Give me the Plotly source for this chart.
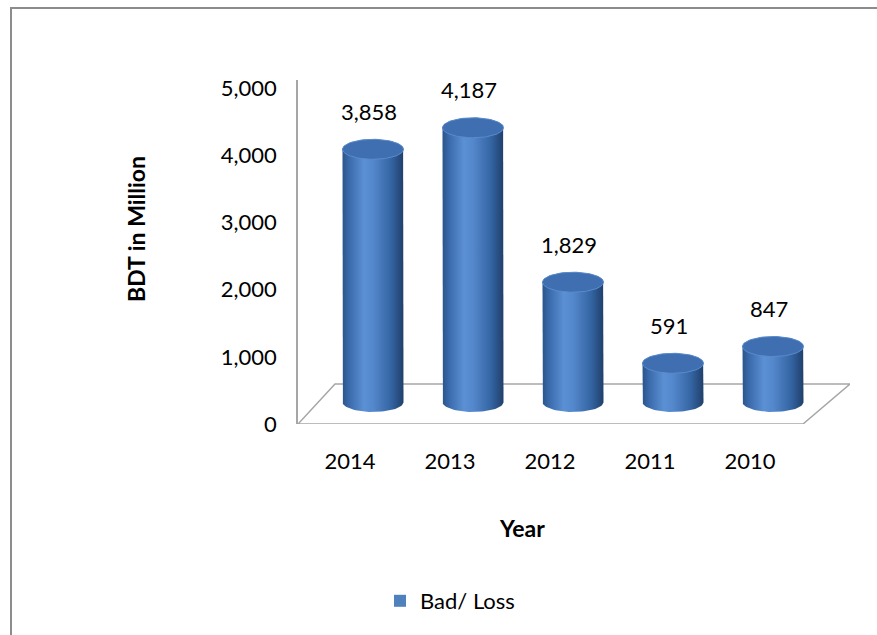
import numpy as np
import plotly.graph_objects as go

years = ["2014", "2013", "2012", "2011", "2010"]
values = [3858, 4187, 1829, 591, 847]
series_name = "Bad/ Loss"
y_ticks = [0, 1000, 2000, 3000, 4000, 5000]

# geometry (pixels -> axis units)
W, H = 877, 635
ML, MR, MT, MB = 298, 27, 80, 211
PX_X = 100.0                 # px per category
PX_Y = 0.0672                # px per value unit on the front (tick) plane
PX_Y2 = 0.0655               # px per value unit on the cylinders' (deeper) plane
BASE_PX = 22                 # cylinders' base sits this many px above the front edge
plot_w = W - ML - MR
plot_h = H - MT - MB
x0 = -0.75
x_range = [x0, x0 + plot_w / PX_X]
y_range = [0, plot_h / PX_Y]
y2_range = [-BASE_PX / PX_Y2, (plot_h - BASE_PX) / PX_Y2]

rx = 0.305          # cylinder radius (x units)
ry = 10 / PX_Y2     # ellipse vertical radius (y2 units)

FONT = "Lato"
fig = go.Figure()

body_scale = [[0, "#2a558b"], [0.12, "#3b6cad"], [0.35, "#5b90d4"],
              [0.5, "#5488cc"], [0.8, "#3464a2"], [1, "#203f6b"]]

for i, v in enumerate(values):
    c = i
    top = v
    th_b = np.linspace(np.pi, 2 * np.pi, 40)
    th_t = np.linspace(0, np.pi, 40)
    xs = [c - rx] + list(c + rx * np.cos(th_b)) + [c + rx] + list(c + rx * np.cos(th_t))
    ys = [top] + list(0 + ry * np.sin(th_b)) + [top] + list(top + ry * np.sin(th_t))
    fig.add_trace(go.Scatter(
        x=xs, y=ys, yaxis="y2", mode="lines", fill="toself",
        line=dict(width=0, color="rgba(0,0,0,0)"),
        fillgradient=dict(type="horizontal", colorscale=body_scale),
        hoverinfo="skip", showlegend=False))
    th = np.linspace(0, 2 * np.pi, 80)
    fig.add_trace(go.Scatter(
        x=list(c + rx * np.cos(th)), y=list(top + ry * np.sin(th)), yaxis="y2",
        mode="lines", fill="toself", fillcolor="#3f6fb0",
        line=dict(width=1, color="#5a8bcd"),
        hoverinfo="skip", showlegend=False))
    fig.add_annotation(x=c - 0.04, y=top, yref="y2", text=f"{v:,}", showarrow=False,
                       yshift=38, font=dict(family=FONT, size=22, color="#000"))

# legend entry
fig.add_trace(go.Scatter(x=[None], y=[None], mode="markers", name=series_name,
                         marker=dict(symbol="square", size=12, color="#4f81bd")))

def xp(px):
    return (px - ML) / plot_w

def yp(py):
    return (H - MB - py) / plot_h

floor_back = 40 / PX_Y
shapes = [
    # floor
    dict(type="path", xref="x", yref="y", layer="below",
         path=f"M {x0},0 L {x0 + 0.37},{floor_back} L {x_range[1]},{floor_back} L {x0 + 5.05},0 Z",
         line=dict(color="#a6a6a6", width=1.5)),
    # outer border
    dict(type="line", xref="paper", yref="paper", x0=xp(10), x1=xp(877), y0=yp(8), y1=yp(8),
         line=dict(color="#8c8c8c", width=2)),
    dict(type="line", xref="paper", yref="paper", x0=xp(11), x1=xp(11), y0=yp(8), y1=yp(635),
         line=dict(color="#8c8c8c", width=2)),
]

fig.update_layout(
    width=W, height=H,
    margin=dict(l=ML, r=MR, t=MT, b=MB, autoexpand=False),
    paper_bgcolor="white", plot_bgcolor="white",
    font=dict(family=FONT, size=22, color="#000"),
    shapes=shapes,
    showlegend=True,
    legend=dict(xref="container", yref="container", x=450 / W, y=1 - 601 / H,
                xanchor="center", yanchor="middle", font=dict(family=FONT, size=22),
                bgcolor="rgba(0,0,0,0)"),
    xaxis=dict(range=x_range, showgrid=False, zeroline=False, showline=False,
               tickvals=[i - 0.23 for i in range(len(years))], ticktext=years,
               ticks="", ticklabelstandoff=22, tickangle=0, automargin=False,
               fixedrange=True),
    yaxis=dict(range=y_range, showgrid=False, zeroline=False, showline=True,
               linecolor="#a6a6a6", linewidth=1.5, automargin=False,
               tickvals=y_ticks, tickformat=",", ticks="", ticklabelstandoff=15,
               fixedrange=True),
    yaxis2=dict(range=y2_range, overlaying="y", visible=False, fixedrange=True),
    annotations=list(fig.layout.annotations) + [
        dict(xref="paper", yref="paper", x=xp(136), y=yp(229), text="<b>BDT in Million</b>",
             xanchor="center", yanchor="middle",
             textangle=-90, showarrow=False, font=dict(family=FONT, size=23)),
        dict(xref="paper", yref="paper", x=xp(522), y=yp(528), text="<b>Year</b>",
             xanchor="center", yanchor="middle",
             showarrow=False, font=dict(family=FONT, size=23)),
    ],
)

fig.write_html("out.html")
